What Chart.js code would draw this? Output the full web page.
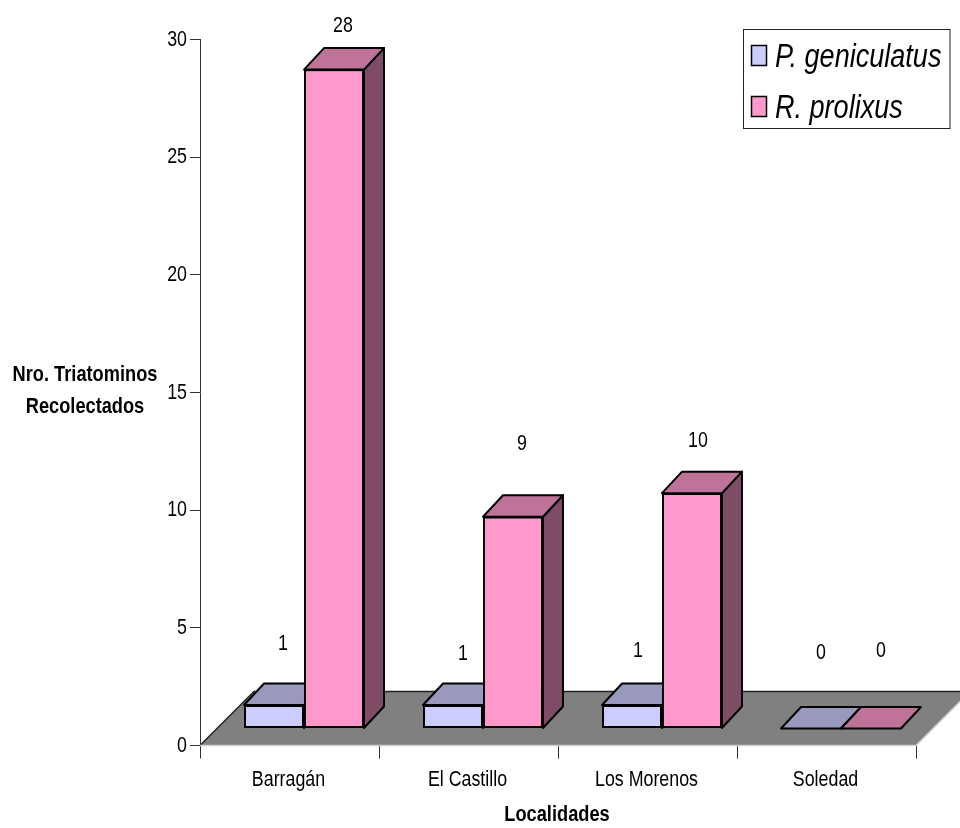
<!DOCTYPE html>
<html>
<head>
<meta charset="utf-8">
<script src="https://cdn.jsdelivr.net/npm/chart.js@4"></script>
<style>
  body { margin: 0; background: #fff; }
  canvas { display: block; }
</style>
</head>
<body>
<canvas id="tatChart" width="960" height="828"></canvas>
<script>
// Values
const localidades = ["Barragán", "El Castillo", "Los Morenos", "Soledad"];
const geniculatus = [1, 1, 1, 0];
const prolixus = [28, 9, 10, 0];
const yTicks = [0, 5, 10, 15, 20, 25, 30];
const yTitleLines = ["Nro. Triatominos", "Recolectados"];
const xTitle = "Localidades";
const seriesNames = ["P. geniculatus", "R. prolixus"];

const FONT = '"Liberation Sans", Arial, sans-serif';
const SQUEEZE = 0.81; // the original text is horizontally squashed Arial

// Value labels sit at odd places in the original, so each has its own nudge from the bar top
const labelNudge = [
  [[9, -61], [10, -51], [6, -54], [10, -76]],
  [[9, -44], [9, -73], [6, -52], [10, -78]]
];

// Colours: [front, top, side]
const faces = [
  ["#ccccff", "#9999bf", "#66667f"],
  ["#ff99cc", "#bf7399", "#7f4c66"]
];

// Bars stand on the floor, shifted in from the axis corner
const barShift = { x: 14.5, y: -17 };
const depth = { x: 20, y: 21.5 };
const floorDepth = { x: 54, y: 54 };

function polygon(ctx, pts, fill, stroke, lineWidth) {
  ctx.beginPath();
  pts.forEach((p, i) => (i ? ctx.lineTo(p[0], p[1]) : ctx.moveTo(p[0], p[1])));
  ctx.closePath();
  ctx.fillStyle = fill;
  ctx.fill();
  if (stroke) {
    ctx.strokeStyle = stroke;
    ctx.lineWidth = lineWidth;
    ctx.lineJoin = "round";
    ctx.stroke();
  }
}

function squeezedText(ctx, text, x, y, align, font) {
  ctx.save();
  ctx.font = font;
  ctx.textAlign = align;
  ctx.textBaseline = "middle";
  ctx.fillStyle = "#000";
  ctx.translate(x, y);
  ctx.scale(SQUEEZE, 1);
  ctx.fillText(text, 0, 0);
  ctx.restore();
}

function drawFloor(chart) {
  const ctx = chart.ctx;
  const { left, right, bottom } = chart.chartArea;
  const backY = bottom - floorDepth.y;
  polygon(ctx, [[left, bottom], [right, bottom], [right + floorDepth.x, backY], [left + floorDepth.x, backY]], "#808080");

  ctx.lineWidth = 1.5;
  ctx.strokeStyle = "#222";
  ctx.beginPath();
  ctx.moveTo(left, bottom);
  ctx.lineTo(left + floorDepth.x, backY);
  ctx.lineTo(right + floorDepth.x, backY);
  ctx.stroke();

  ctx.strokeStyle = "#d0d0d0";
  ctx.beginPath();
  ctx.moveTo(left, bottom);
  ctx.lineTo(right, bottom);
  ctx.lineTo(right + floorDepth.x, backY);
  ctx.stroke();
}

const bar3d = {
  id: "bar3d",
  beforeDatasetsDraw(chart) {
    const ctx = chart.ctx;
    drawFloor(chart);
    ctx.save();
    ctx.translate(barShift.x, barShift.y);
    chart.data.datasets.forEach((ds, i) => {
      chart.getDatasetMeta(i).data.forEach(bar => {
        const x1 = bar.x - bar.width / 2;
        const x2 = bar.x + bar.width / 2;
        const top = bar.y;
        // side first, then the top face over it
        if (bar.base - top > 0.5) {
          polygon(ctx, [[x2, top], [x2 + depth.x, top - depth.y], [x2 + depth.x, bar.base - depth.y], [x2, bar.base]],
            faces[i][2], "#000", 2);
        }
        polygon(ctx, [[x1, top], [x1 + depth.x, top - depth.y], [x2 + depth.x, top - depth.y], [x2, top]],
          faces[i][1], "#000", 2);
      });
    });
    // stays translated while the library draws the bars
  },
  afterDatasetsDraw(chart) {
    chart.ctx.restore();
  },
  afterDraw(chart) {
    const ctx = chart.ctx;
    const xs = chart.scales.x;
    const ys = chart.scales.y;
    const tickFont = "22px " + FONT;
    const boldFont = "bold 22.5px " + FONT;

    // tick labels, drawn here so they can be squeezed
    localidades.forEach((name, i) => {
      squeezedText(ctx, name, xs.getPixelForTick(i) - 1, 780, "center", tickFont);
    });
    yTicks.forEach(v => {
      squeezedText(ctx, String(v), 187, ys.getPixelForValue(v), "right", tickFont);
    });
    squeezedText(ctx, xTitle, (xs.left + xs.right) / 2 - 1, 815, "center", boldFont);

    // value labels
    chart.data.datasets.forEach((ds, i) => {
      chart.getDatasetMeta(i).data.forEach((bar, j) => {
        const n = labelNudge[i][j];
        squeezedText(ctx, String(ds.data[j]), bar.x + barShift.x + n[0], bar.y + barShift.y + n[1], "center", tickFont);
      });
    });

    // horizontal y axis title
    yTitleLines.forEach((line, i) => squeezedText(ctx, line, 85, 375 + i * 32, "center", boldFont));

    // legend box
    ctx.save();
    ctx.fillStyle = "#fff";
    ctx.strokeStyle = "#222";
    ctx.lineWidth = 1;
    ctx.fillRect(743.5, 29.5, 206.5, 99);
    ctx.strokeRect(743.5, 29.5, 206.5, 99);
    seriesNames.forEach((name, i) => {
      const y = 45.5 + i * 51;
      ctx.fillStyle = faces[i][0];
      ctx.lineWidth = 1.5;
      ctx.fillRect(751.5, y, 15, 20);
      ctx.strokeStyle = "#000";
      ctx.strokeRect(751.5, y, 15, 20);
      squeezedText(ctx, name, 775, y + 12, "left", "italic 33.4px " + FONT);
    });
    ctx.restore();
  }
};

new Chart(document.getElementById("tatChart"), {
  type: "bar",
  data: {
    labels: localidades,
    datasets: [
      { label: seriesNames[0], data: geniculatus, backgroundColor: faces[0][0] },
      { label: seriesNames[1], data: prolixus, backgroundColor: faces[1][0] }
    ]
  },
  options: {
    responsive: false,
    animation: false,
    layout: { padding: { left: 0, right: 44, top: 39.5, bottom: 0 } },
    datasets: {
      bar: {
        categoryPercentage: 0.67,
        barPercentage: 1,
        borderColor: "#000",
        borderWidth: 2,
        borderSkipped: false,
        clip: false
      }
    },
    plugins: { legend: { display: false }, tooltip: { enabled: false } },
    scales: {
      x: {
        afterFit: s => { s.height = 82.5; },
        grid: { drawOnChartArea: false, color: "#333", tickLength: 13, offset: true },
        border: { display: false },
        ticks: { display: false }
      },
      y: {
        min: 0,
        max: 30,
        afterFit: s => { s.width = 200; },
        afterBuildTicks: s => { s.ticks = yTicks.map(v => ({ value: v })); },
        grid: { drawOnChartArea: false, color: "#333", tickLength: 10 },
        border: { display: true, color: "#333", width: 1 },
        ticks: { display: false }
      }
    }
  },
  plugins: [bar3d]
});
</script>
</body>
</html>
